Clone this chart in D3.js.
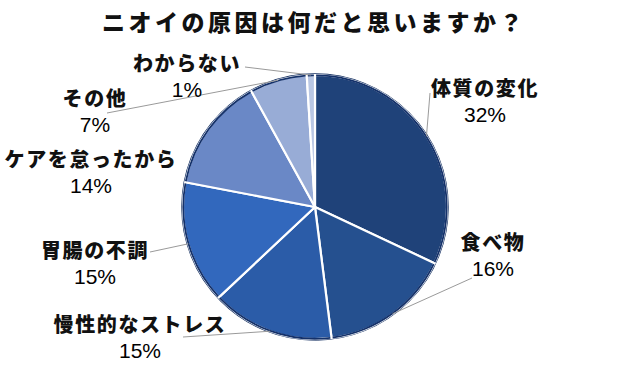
<!DOCTYPE html>
<html>
<head>
<meta charset="utf-8">
<script src="https://cdn.jsdelivr.net/npm/d3@7"></script>
<style>
  body { margin: 0; background: #fff; }
  text { font-family: "Noto Sans CJK JP", "Noto Sans", sans-serif; fill: #111; }
  .pct { font-family: "Liberation Sans", Arial, sans-serif; fill: #000; }
</style>
</head>
<body>
<div id="chart"></div>
<script>
var categories = ["体質の変化", "食べ物", "慢性的なストレス", "胃腸の不調", "ケアを怠ったから", "その他", "わからない"];
var values = [32, 16, 15, 15, 14, 7, 1];
var colors = ["#1f4279", "#25508f", "#2b5ca8", "#3268bd", "#6a88c6", "#98acd6", "#b9c7e4"];

// label anchors (layout only)
var labelAt = [[485, 96], [493, 250], [140, 332], [95, 258], [91, 167], [95, 106], [187, 71]];
// leader line end beside label (null = no line)
var leaderEnd = [[430, 93], [472, 278], [183, 337], [150, 252], null, [107, 113], [245, 67]];

var w = 629, h = 376;
var cx = 315, cy = 207, r = 132;

var svg = d3.select("#chart")
    .append("svg")
    .attr("width", w)
    .attr("height", h);

svg.append("text")
    .attr("x", 314)
    .attr("y", 31)
    .attr("text-anchor", "middle")
    .attr("font-size", 23)
    .attr("font-weight", 900)
    .attr("letter-spacing", 3.5)
    .text("ニオイの原因は何だと思いますか？");

var pie = d3.pie().sort(null).value(function (d) { return d; });
var arcs = pie(values);

var arc = d3.arc().innerRadius(0).outerRadius(r);

var g = svg.append("g").attr("transform", "translate(" + cx + "," + cy + ")");

// dark rim
g.append("circle")
    .attr("r", r + 0.5)
    .attr("fill", "none")
    .attr("stroke", "#0f2b5e")
    .attr("stroke-width", 2.5);

g.selectAll("path.slice")
    .data(arcs)
    .enter()
    .append("path")
    .attr("class", "slice")
    .attr("d", arc)
    .attr("fill", function (d, i) { return colors[i]; })
    .attr("stroke", "#fff")
    .attr("stroke-width", 2.2)
    .attr("stroke-linejoin", "round");

// outer edge rim per slice
g.selectAll("path.rim")
    .data(arcs)
    .enter()
    .append("path")
    .attr("class", "rim")
    .attr("d", d3.arc().innerRadius(r - 1.2).outerRadius(r + 0.6).padAngle(0.012))
    .attr("fill", "#14316a");

// leader lines
arcs.forEach(function (d, i) {
    if (!leaderEnd[i]) return;
    var a = (d.startAngle + d.endAngle) / 2;
    var p = [cx + Math.sin(a) * r, cy - Math.cos(a) * r];
    svg.append("line")
        .attr("x1", p[0]).attr("y1", p[1])
        .attr("x2", leaderEnd[i][0]).attr("y2", leaderEnd[i][1])
        .attr("stroke", "#9a9a9a")
        .attr("stroke-width", 1);
});

var labels = svg.selectAll("g.lab")
    .data(categories)
    .enter()
    .append("g")
    .attr("class", "lab")
    .attr("transform", function (d, i) { return "translate(" + labelAt[i][0] + "," + labelAt[i][1] + ")"; });

labels.append("text")
    .attr("text-anchor", "middle")
    .attr("font-size", 20)
    .attr("font-weight", 900)
    .attr("letter-spacing", 1.6)
    .text(function (d) { return d; });

labels.append("text")
    .attr("class", "pct")
    .attr("text-anchor", "middle")
    .attr("y", 26)
    .attr("font-size", 21)
    .text(function (d, i) { return values[i] + "%"; });
</script>
</body>
</html>
